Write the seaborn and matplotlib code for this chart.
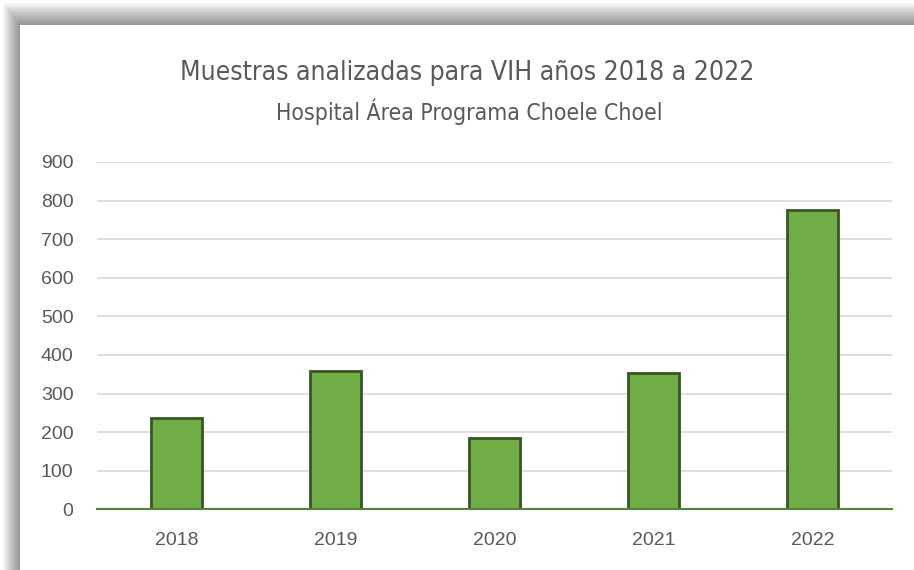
import numpy as np
import pandas as pd
import matplotlib
matplotlib.use("Agg")
import matplotlib.pyplot as plt
import seaborn as sns
from matplotlib.patches import Rectangle

# Data
years = ["2018", "2019", "2020", "2021", "2022"]
muestras = [236, 358, 184, 354, 776]
y_ticks = [0, 100, 200, 300, 400, 500, 600, 700, 800, 900]

title = "Muestras analizadas para VIH años 2018 a 2022"
subtitle = "Hospital Área Programa Choele Choel"

sns.set_style("white")
plt.rcParams["font.family"] = ["Liberation Sans", "DejaVu Sans"]

df = pd.DataFrame({"year": years, "muestras": muestras})

W, H = 914, 570
fig = plt.figure(figsize=(W / 100, H / 100), dpi=100)
fig.patch.set_facecolor("white")

# Frame shadow (top and left), drawn in pixel coordinates
n_steps = 17
for k in range(n_steps):
    x0 = 3 + k
    y_top = 3 + k * 22 / n_steps
    fig.patches.append(Rectangle((x0, 0), W - x0, H - y_top, transform=None,
                                 facecolor="black", edgecolor="none", alpha=0.028, zorder=0))
fig.patches.append(Rectangle((20, 0), W - 20, H - 25, transform=None,
                             facecolor="white", edgecolor="none", zorder=1))

ax = fig.add_axes([97 / W, 1 - 509.3 / H, (892 - 97) / W, (509.3 - 162) / H])
ax.set_zorder(2)
ax.patch.set_alpha(0)

sns.barplot(data=df, x="year", y="muestras", color="#70AD47", width=0.32,
            edgecolor="#375623", linewidth=2, saturation=1, ax=ax, zorder=3)

ax.set_ylim(0, 900)
ax.set_yticks(y_ticks)
ax.set_xlim(-0.5, len(years) - 0.5)
ax.yaxis.grid(True, color="#D9D9D9", linewidth=1.2)
ax.set_axisbelow(True)
for side in ["top", "right", "left"]:
    ax.spines[side].set_visible(False)
ax.spines["bottom"].set_color("#548235")
ax.spines["bottom"].set_linewidth(1.5)
ax.spines["bottom"].set_zorder(4)
ax.tick_params(axis="both", length=0, labelsize=14, labelcolor="#595959")
ax.tick_params(axis="y", pad=17)
ax.tick_params(axis="x", pad=16)
ax.set_xlabel("")
ax.set_ylabel("")

fig.text(467 / W, 1 - 80 / H, title, ha="center", va="baseline", fontsize=19,
         color="#595959", family=["DejaVu Sans"], fontstretch="condensed", zorder=5)
fig.text(469 / W, 1 - 120 / H, subtitle, ha="center", va="baseline", fontsize=16.5,
         color="#595959", family=["DejaVu Sans"], fontstretch="condensed", zorder=5)

fig.savefig("out.png", dpi=100)
